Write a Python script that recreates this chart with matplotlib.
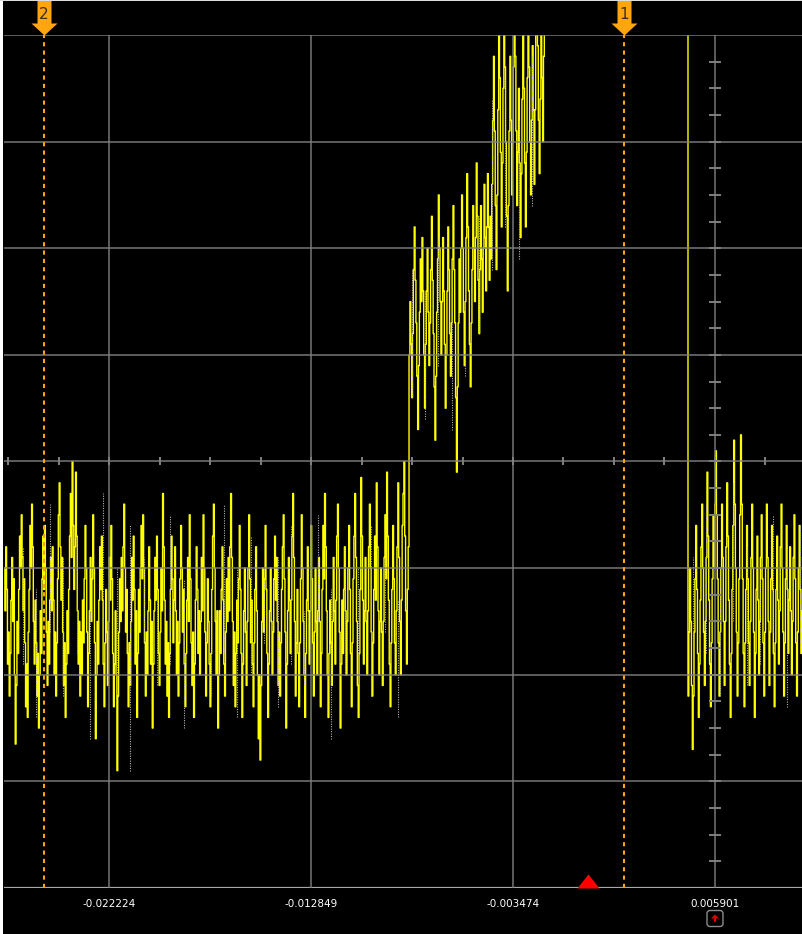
import numpy as np
import matplotlib
matplotlib.use("Agg")
import matplotlib.pyplot as plt
from matplotlib.patches import Rectangle, FancyBboxPatch, Polygon
from matplotlib.transforms import IdentityTransform

# time axis (s): one label per major division
grid_times = [-0.022224, -0.012849, -0.003474, 0.005901]
grid_labels = ["-0.022224", "-0.012849", "-0.003474", "0.005901"]
div_time = 0.009375
x_left, x_right = -0.02710, 0.00994
n_div_y = 4

trigger_t = 0.0
cursor_times = [0.001678, -0.025241]
cursor_labels = ["1", "2"]

# trace in vertical divisions, one sample every dt
dt = 4.0e-5
t_start_a = -0.02710
base_low = [
    -1.0, -1.4, -0.8, -1.2, -1.9, -1.6, -2.2, -1.8, -1.3, -0.9, -1.5, -1.1, -2.0, -2.65, -2.1, -1.5, -1.8, -1.2, -0.7, -1.0,
    -0.5, -0.9, -1.4, -1.1, -1.7, -2.3, -1.9, -2.4, -1.6, -1.2, -0.6, -1.0, -0.4, -0.8, -1.5, -1.9, -1.3, -1.7, -2.2, -1.8,
    -2.5, -2.0, -1.4, -1.8, -1.1, -0.7, -1.2, -0.6, -1.0, -1.6, -2.1, -1.5, -1.9, -1.3, -0.9, -1.4, -0.8, -1.3, -2.0, -1.6,
    -2.2, -1.7, -1.1, -0.5, -0.2, -0.8, -1.3, -0.9, -1.6, -2.1, -1.7, -2.4, -1.9, -1.4, -1.8, -1.2, -0.7, -0.3, -0.9, -0.0,
    -0.6, -1.2, -0.8, -0.1, -0.7, -1.4, -1.9, -1.5, -2.2, -1.6, -2.0, -1.3, -1.7, -1.1, -0.6, -1.0, -1.6, -2.3, -1.8, -1.4,
    -0.9, -1.5, -1.1, -0.5, -1.0, -1.7, -2.6, -2.0, -1.5, -1.9, -1.3, -0.8, -1.2, -0.7, -1.3, -1.9, -2.3, -1.7, -1.2, -1.6,
    -2.1, -1.5, -0.9, -1.3, -0.6, -1.1, -1.8, -2.3, -1.9, -1.4, -2.0, -2.9, -2.2, -1.6, -1.1, -1.5, -0.9, -1.4, -0.8, -0.4,
    -1.0, -1.6, -1.2, -1.8, -2.3, -1.7, -2.1, -1.5, -0.9, -1.3, -0.7, -1.2, -1.9, -1.4, -2.4, -1.8, -1.2, -1.6, -1.0, -0.6,
    -1.1, -0.5, -1.0, -1.7, -2.2, -1.6, -2.0, -1.4, -0.8, -1.3, -1.9, -1.5, -2.5, -1.9, -1.4, -0.9, -1.3, -0.7, -1.2, -1.8,
    -2.1, -1.6, -1.0, -1.4, -0.3, -0.8, -1.3, -1.9, -1.5, -2.2, -1.7, -2.4, -1.8, -1.2, -0.7, -1.1, -1.7, -1.3, -0.8, -1.4,
    -2.0, -1.5, -2.2, -1.7, -1.1, -0.6, -1.0, -1.6, -1.2, -1.9, -2.3, -1.8, -1.3, -0.9, -1.5, -0.5, -1.1, -1.7, -2.1, -1.6,
    -2.4, -1.9, -1.3, -0.8, -1.2, -1.8, -1.4, -2.0, -1.5, -0.9, -1.4, -0.5, -1.0, -1.6, -2.2, -1.7, -1.1, -1.5, -1.9, -2.3,
    -1.8, -1.2, -0.7, -0.4, -1.0, -1.5, -2.0, -1.4, -2.5, -2.0, -1.4, -1.8, -1.2, -0.8, -1.3, -1.9, -2.2, -1.6, -1.1, -1.5,
    -0.9, -1.4, -0.8, -0.3, -0.9, -1.5, -2.1, -1.6, -2.3, -1.8, -1.3, -1.7, -1.1, -0.6, -1.2, -1.8, -2.4, -1.9, -1.4, -1.0,
    -1.6, -2.1, -1.5, -1.0, -0.5, -1.1, -1.7, -1.3, -1.9, -2.3, -1.7, -1.2, -0.8, -1.4, -2.0, -2.6, -2.0, -2.8, -2.1, -1.5,
    -1.0, -1.6, -1.1, -0.6, -1.2, -1.8, -2.4, -1.9, -1.4, -1.0, -1.5, -2.0, -1.6, -1.1, -0.7, -1.3, -0.9, -1.5, -2.1, -1.6,
    -2.2, -1.7, -1.2, -0.8, -0.5, -1.1, -1.6, -2.5, -1.9, -1.4, -0.9, -1.3, -1.8, -1.3, -0.7, -0.3, -0.9, -1.5, -2.2, -1.7,
    -1.2, -1.8, -2.3, -1.7, -1.1, -0.5, -1.0, -1.5, -2.0, -2.4, -1.8, -1.3, -0.8, -1.4, -1.9, -1.4, -0.6, -1.1, -1.7, -2.2,
    -1.6, -1.0, -1.5, -2.0, -1.4, -0.9, -1.5, -2.3, -1.8, -1.2, -0.6, -1.1, -0.3, -0.8, -1.4, -2.0, -2.4, -1.8, -1.3, -1.7,
    -2.1, -1.5, -0.9, -1.4, -1.9, -1.3, -0.7, -0.4, -1.0, -1.6, -2.5, -1.9, -1.3, -1.8, -1.2, -0.8, -1.4, -2.0, -1.5, -1.0,
    -0.6, -1.2, -1.8, -2.3, -1.7, -1.1, -0.7, -0.3, -0.9, -1.5, -2.1, -2.4, -1.8, -1.2, -0.15, -0.7, -1.3, -1.9, -1.4, -0.9,
    -1.5, -2.0, -1.4, -0.8, -0.4, -1.0, -1.6, -2.2, -1.7, -1.2, -0.7, -1.3, -0.2, -0.8, -1.4, -2.0, -1.5, -1.0, -1.6, -2.1,
    -1.5, -0.9, -0.5, -1.1, -0.1, -0.7, -1.3, -1.9, -2.3, -1.7, -1.2, -0.6, -1.1, -1.7, -2.0, -1.4, -0.8, -0.2, -0.9, -1.5,
    -2.0, -1.3, -0.6, -0.3, -0.0, -0.7, -1.4, -1.9, -1.2, -0.8,
]
step_high = [
    1.0, 1.5, 1.1, 0.6, 1.2, 1.8, 2.2, 1.7, 1.3, 0.8, 0.3, 0.9, 1.4, 1.9, 1.5, 2.1, 1.6, 1.0, 0.5, 1.1,
    1.6, 2.0, 1.4, 0.9, 1.3, 1.8,
    2.3, 1.7, 1.2, 0.7, 0.2, 0.8, 1.4, 1.9, 2.5, 2.0, 1.5, 1.0, 1.5, 2.1, 1.6, 1.1, 0.5, 1.0, 1.6, 2.2,
    1.8, 1.2, 0.8, 1.3, 1.9, 2.4, 1.8, 1.3, 0.6, -0.1, 0.7, 1.3, 1.9, 1.4, 2.0,
    2.5, 2.0, 1.4, 0.9, 1.5, 2.1, 2.7, 2.2, 1.6, 1.1, 0.7, 1.3, 1.8, 2.4, 2.0, 1.5, 2.1, 2.8, 2.3, 1.7,
    1.2, 1.8, 2.4, 1.9, 1.4, 2.0, 2.6, 2.1, 1.6, 2.2, 2.7, 2.2, 1.7, 2.3, 1.9,
    2.6, 3.2, 3.8, 3.1, 2.4, 1.8, 2.5, 3.3, 4.2, 3.6, 2.9, 2.2, 2.8, 3.5, 4.3, 3.7, 3.0, 2.3, 1.6, 2.4,
    3.1, 3.8, 3.2, 2.5, 3.0, 3.7, 4.4, 3.8, 3.1, 2.4, 2.9, 3.5, 2.8, 2.1, 2.7, 3.4, 4.1, 3.5, 2.8, 2.2,
    2.9, 3.6, 4.3, 3.7, 3.0, 2.5, 3.2, 3.9, 3.3, 2.6, 3.3, 4.0, 4.5, 3.9, 3.2, 2.7, 3.4, 4.2, 3.6, 3.0,
    3.8, 4.6,
]
above_screen = 5.0
t_start_b = 0.004648
after_fall = [
    -2.2, -1.6, -1.0, -1.5, -2.1, -2.7, -2.2, -1.6, -1.1, -0.6, -1.2, -1.8, -2.4, -1.9,
    -1.3, -0.8, -0.4, -1.0, -1.6, -2.1, -1.5, -0.9, -0.1, -0.7, -1.3, -1.9, -2.3, -1.7, -1.1, -0.5, -1.0,
    -0.4, 0.1, -0.5, -1.1, -1.7, -2.2, -1.6, -1.0, -0.4, -0.9, -1.5, -2.1, -1.5, -0.8, -0.2, -0.7, -1.3, -1.9, -2.4, -1.8,
    -1.2, -0.6, 0.2, -0.4, -1.0, -1.6, -2.2, -1.7, -1.1, -0.5, 0.25, -0.4, -1.1, -1.8, -2.3, -1.7, -1.2, -0.6, -1.1, -1.7,
    -2.1, -1.5, -0.9, -0.4, -1.0, -1.6, -2.4, -1.8, -1.2, -0.7, -1.3, -2.0,
    -1.5, -0.9, -0.5, -1.1, -1.7, -2.2, -1.6, -1.0, -0.4, -0.9, -1.5, -2.1, -1.6, -1.1, -0.6, -1.2, -1.8, -2.3, -1.7, -1.2,
    -0.7, -1.3, -1.9, -1.4, -0.8, -0.4, -1.0, -1.6, -2.2, -1.7, -1.1, -0.6, -1.2, -1.8, -1.3, -0.8, -1.4, -2.0, -1.5, -0.9,
    -0.5, -1.1, -1.7, -2.2, -1.6, -1.0, -0.6, -1.2, -1.8, -1.4, -0.9,
]

# grey dotted columns drawn by the scope inside the trace (lo, hi in divisions)
dot_t0 = -0.026215
dot_step = 0.000622
dot_spans = [
    (-1.9, -0.8), (-2.4, -1.2), (-1.6, -0.4), (-2.2, -0.9), (-1.8, -0.7), (-2.6, -1.4), (-1.5, -0.3), (-2.0, -1.0),
    (-2.9, -0.6), (-1.7, -0.9), (-2.1, -1.3), (-1.9, -0.5), (-2.5, -1.1), (-1.6, -0.8), (-2.2, -1.2), (-1.8, -0.4),
    (-2.4, -1.0), (-2.0, -0.7), (-1.7, -1.1), (-2.3, -0.9), (-1.9, -0.6), (-2.1, -1.4), (-1.5, -0.5), (-2.6, -1.2),
    (-2.0, -0.8), (-1.8, -1.0), (-2.2, -0.6), (-1.6, -0.9), (-2.4, -1.3),
    (0.6, 1.8), (0.4, 1.6), (0.9, 2.1), (0.3, 1.4), (0.8, 2.0), (1.2, 2.3), (1.8, 3.4), (2.2, 3.6), (1.9, 3.2), (2.4, 3.8),
    None, None, None, None, None, None, None, None, None, None, None,
    (-2.0, -0.9), (-1.8, -0.4), (-2.2, -1.0), (-1.5, -0.2), (-2.1, -0.8), (-1.9, -1.1), (-1.6, -0.5), (-2.3, -1.2),
    (-1.7, -0.6),
]

GRID = "#808080"
ORANGE = "#ffa510"

W, H = 802, 934
fig = plt.figure(figsize=(W / 100, H / 100), dpi=100, facecolor="black")
ax = fig.add_axes([4 / W, 1 - 888 / H, 798 / W, 853 / H])
ax.set_facecolor("black")
ax.set_xlim(x_left, x_right)
ax.set_ylim(-n_div_y, n_div_y)
for s in ax.spines.values():
    s.set_visible(False)

# trace
va = base_low + step_high + [above_screen]
ta = t_start_a + dt * np.arange(len(va))
tb = t_start_b + dt * np.arange(len(after_fall))
ax.plot(np.concatenate([ta, tb]), np.concatenate([va, after_fall]),
        drawstyle="steps-post", color="#ffff00", lw=1.0, zorder=2)

dots = [(dot_t0 + i * dot_step, s) for i, s in enumerate(dot_spans) if s is not None]
ax.vlines([d[0] for d in dots], [d[1][0] for d in dots], [d[1][1] for d in dots],
          colors="#b4b4b4", linestyles=(0, (1, 1.2)), lw=0.8, zorder=2.5)

# graticule
for y in range(-n_div_y + 1, n_div_y + 1):
    ax.axhline(y, color=GRID, lw=1.2, alpha=0.85, zorder=3)
ax.axhline(-n_div_y, color="#a8a8a8", lw=1.6, zorder=3)
for t in grid_times:
    ax.axvline(t, color=GRID, lw=1.2, alpha=0.85, zorder=3)

q = div_time / 4
xt = np.arange(grid_times[0] - 4 * q, x_right, q)
xt = xt[xt > x_left]
ax.plot(xt, np.zeros_like(xt), ls="none", marker="|", ms=5.5, mew=1.4,
        color=GRID, zorder=3)
yt = np.arange(-n_div_y + 0.25, n_div_y, 0.25)
ax.plot(np.full_like(yt, grid_times[-1]), yt, ls="none", marker="_", ms=8.6,
        mew=1.4, color=GRID, zorder=3)

ax.set_yticks([])
ax.set_xticks(grid_times, grid_labels)
ax.tick_params(axis="x", length=0, pad=8, labelcolor="white", labelsize=7.5)

# cursors
cursor_marker = [(0, 0), (-13, 12), (-7, 12), (-7, 35), (7, 35), (7, 12), (13, 12), (0, 0)]
for t, lab in zip(cursor_times, cursor_labels):
    ax.axvline(t, color=ORANGE, lw=1.5, ls=(0, (2, 2)), zorder=4)
    ax.plot([t], [n_div_y], marker=cursor_marker, ms=50.4, color=ORANGE,
            mew=0, clip_on=False, zorder=5)
    ax.annotate(lab, xy=(t, n_div_y), xytext=(0, 15), textcoords="offset points",
                ha="center", va="center", fontsize=11, color="#3c3020",
                annotation_clip=False, zorder=6)

# trigger position
ax.plot([trigger_t], [-n_div_y], marker=[(-11, 0), (11, 0), (0, 14)], ms=20.2,
        color="#ff0000", mew=0, clip_on=False, zorder=5)

# small icon under the centre axis
fig.canvas.draw()
cx = ax.transData.transform((grid_times[-1], 0))[0]
cy = 15.5
ident = IdentityTransform()
fig.add_artist(FancyBboxPatch((cx - 6, cy - 6), 12, 12,
                              boxstyle="round,pad=2,rounding_size=3",
                              fc="black", ec="#8c8c8c", lw=1.0, transform=ident))
fig.add_artist(Polygon([(cx - 4, cy), (cx + 4, cy), (cx, cy + 4)],
                       closed=True, fc="#e00000", ec="none", transform=ident))
fig.add_artist(Rectangle((cx - 1.2, cy - 3.5), 2.4, 3.6, fc="#e00000",
                         ec="none", transform=ident))

# thin light border on left and top
fig.add_artist(Rectangle((0, 0), 3, H, fc="white", ec="none", transform=ident))
fig.add_artist(Rectangle((0, H - 1), W, 1, fc="#dddddd", ec="none", transform=ident))

fig.savefig("out.png", dpi=100, facecolor="black")
